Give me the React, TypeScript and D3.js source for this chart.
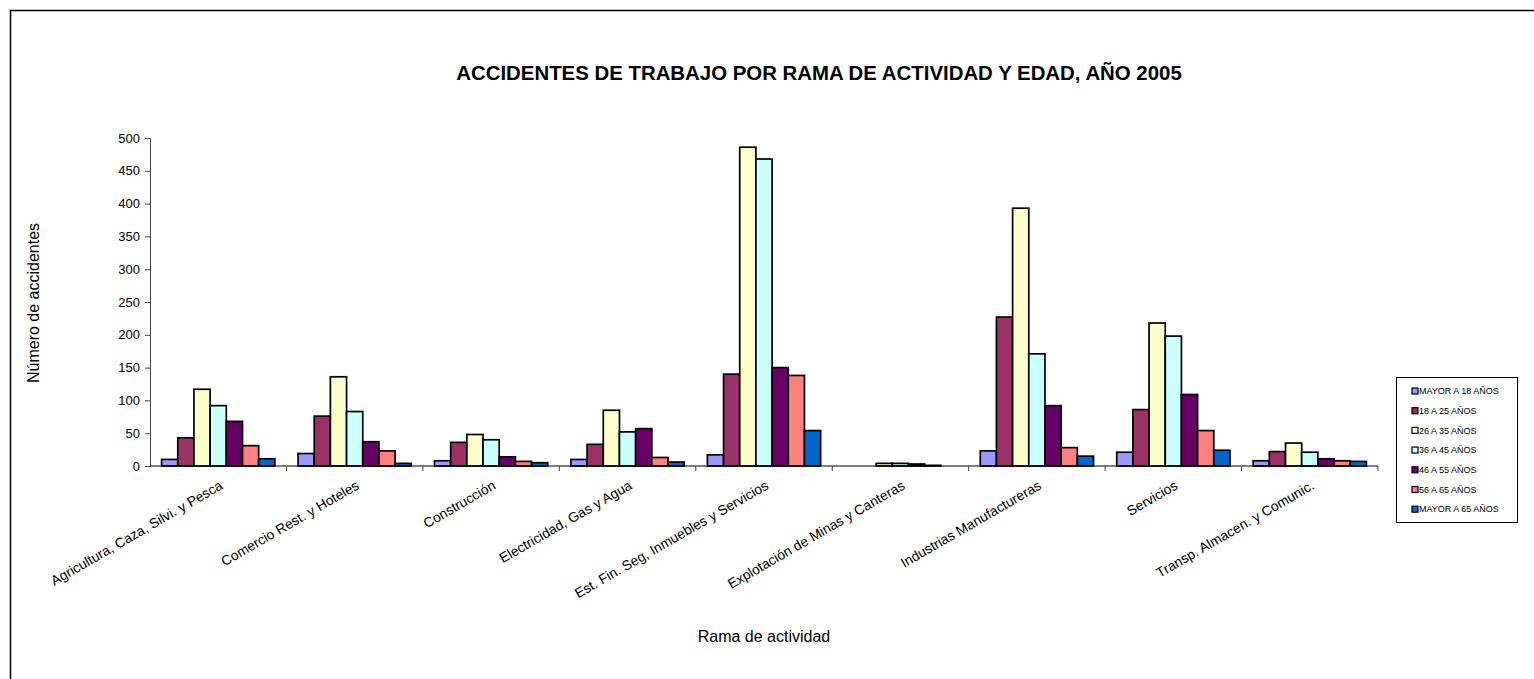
import { useRef, useEffect } from 'react';
import * as d3 from 'd3';

const categories = [
  'Agricultura, Caza, Silvi. y Pesca',
  'Comercio Rest. y Hoteles',
  'Construcción',
  'Electricidad, Gas y Agua',
  'Est. Fin. Seg, Inmuebles y Servicios',
  'Explotación de Minas y Canteras',
  'Industrias Manufactureras',
  'Servicios',
  'Transp. Almacen. y Comunic.',
];

const seriesNames = [
  'MAYOR A 18 AÑOS',
  '18 A 25 AÑOS',
  '26 A 35 AÑOS',
  '36 A 45 AÑOS',
  '46 A 55 AÑOS',
  '56 A 65 AÑOS',
  'MAYOR A 65 AÑOS',
];

const COLORS = ['#9999ff', '#993366', '#ffffcc', '#ccffff', '#660066', '#ff8080', '#0066cc'];

// one array per age group, in category order
const mayor18 = [10, 19, 8, 10, 17, 0, 23, 21, 8];
const a18_25 = [43, 76, 36, 33, 140, 0, 227, 86, 22];
const a26_35 = [117, 136, 48, 85, 486, 4, 393, 218, 35];
const a36_45 = [92, 83, 40, 52, 468, 4, 171, 198, 21];
const a46_55 = [68, 37, 14, 57, 150, 3, 92, 109, 11];
const a56_65 = [31, 23, 7, 13, 138, 1, 28, 54, 8];
const mayor65 = [11, 4, 5, 6, 54, 0, 15, 24, 7];

const series = [mayor18, a18_25, a26_35, a36_45, a46_55, a56_65, mayor65];

const yTicks = [0, 50, 100, 150, 200, 250, 300, 350, 400, 450, 500];

const W = 1534;
const H = 679;
const FONT = 'Arial, "Liberation Sans", sans-serif';

export default function App() {
  const ref = useRef<SVGSVGElement>(null);

  useEffect(() => {
    const svg = d3.select(ref.current);
    svg.selectAll('*').remove();

    const m = { left: 150, right: 1378, top: 138, bottom: 466 };

    // outer frame (right/bottom edges fall outside the picture)
    svg.append('rect').attr('x', 10.5).attr('y', 10.5).attr('width', W).attr('height', H)
      .attr('fill', 'white').attr('stroke', '#000').attr('stroke-width', 1.5);

    svg.append('text').attr('x', 819).attr('y', 80).attr('text-anchor', 'middle')
      .attr('font-family', FONT).attr('font-size', '20.4px').attr('font-weight', 'bold')
      .text('ACCIDENTES DE TRABAJO POR RAMA DE ACTIVIDAD Y EDAD, AÑO 2005');

    const x0 = d3.scaleBand<string>().domain(categories).range([m.left, m.right]).paddingInner(0).paddingOuter(0);
    const bw = x0.bandwidth();
    const x1 = d3.scaleBand<number>().domain(d3.range(seriesNames.length))
      .range([bw * 0.085, bw * 0.915]).padding(0);
    const y = d3.scaleLinear().domain([0, 500]).range([m.bottom, m.top]);

    // bars
    const g = svg.append('g');
    categories.forEach((c, ci) => {
      series.forEach((vals, si) => {
        const v = vals[ci];
        if (!v) return;
        g.append('rect')
          .attr('x', x0(c)! + x1(si)!).attr('y', y(v))
          .attr('width', x1.bandwidth()).attr('height', y(0) - y(v))
          .attr('fill', COLORS[si]).attr('stroke', '#000').attr('stroke-width', 1.7);
      });
    });

    // y axis
    const ay = d3.axisLeft(y).tickValues(yTicks).tickSize(5).tickPadding(5);
    const gy = svg.append('g').attr('transform', `translate(${m.left},0)`).call(ay);
    gy.selectAll('text').attr('font-family', FONT).attr('font-size', '13px').attr('fill', '#000');
    gy.select('.domain').attr('stroke', '#444');
    gy.selectAll('.tick line').attr('stroke', '#444');

    // x axis line and ticks at category boundaries
    svg.append('line').attr('x1', m.left).attr('x2', m.right).attr('y1', m.bottom).attr('y2', m.bottom)
      .attr('stroke', '#000');
    categories.forEach((c) => {
      const xx = x0(c)! + bw;
      svg.append('line').attr('x1', xx).attr('x2', xx).attr('y1', m.bottom).attr('y2', m.bottom + 5)
        .attr('stroke', '#444');
    });

    // rotated category labels
    categories.forEach((c) => {
      const cx = x0(c)! + bw / 2 + 3;
      svg.append('text').attr('transform', `translate(${cx},${m.bottom + 18}) rotate(-30)`)
        .attr('text-anchor', 'end').attr('font-family', FONT).attr('font-size', '13.8px')
        .attr('dy', '0.35em').text(c);
    });

    svg.append('text').attr('transform', 'translate(39,303) rotate(-90)').attr('text-anchor', 'middle')
      .attr('font-family', FONT).attr('font-size', '16px').text('Número de accidentes');

    svg.append('text').attr('x', 764).attr('y', 642).attr('text-anchor', 'middle')
      .attr('font-family', FONT).attr('font-size', '16px').text('Rama de actividad');

    // legend
    const lg = svg.append('g').attr('transform', 'translate(1396,377)');
    lg.append('rect').attr('x', 0.5).attr('y', 0.5).attr('width', 121).attr('height', 145)
      .attr('fill', 'white').attr('stroke', '#000');
    seriesNames.forEach((s, i) => {
      const yy = 14 + i * 19.7;
      lg.append('rect').attr('x', 16).attr('y', yy - 3).attr('width', 6).attr('height', 6)
        .attr('fill', COLORS[i]).attr('stroke', '#000').attr('stroke-width', 1.2);
      lg.append('text').attr('x', 23).attr('y', yy).attr('dy', '0.35em')
        .attr('font-family', FONT).attr('font-size', '9px').text(s);
    });
  }, []);

  return (
    <svg ref={ref} width={W} height={H}
      style={{ position: 'absolute', left: 0, top: 0, background: 'white' }} />
  );
}
